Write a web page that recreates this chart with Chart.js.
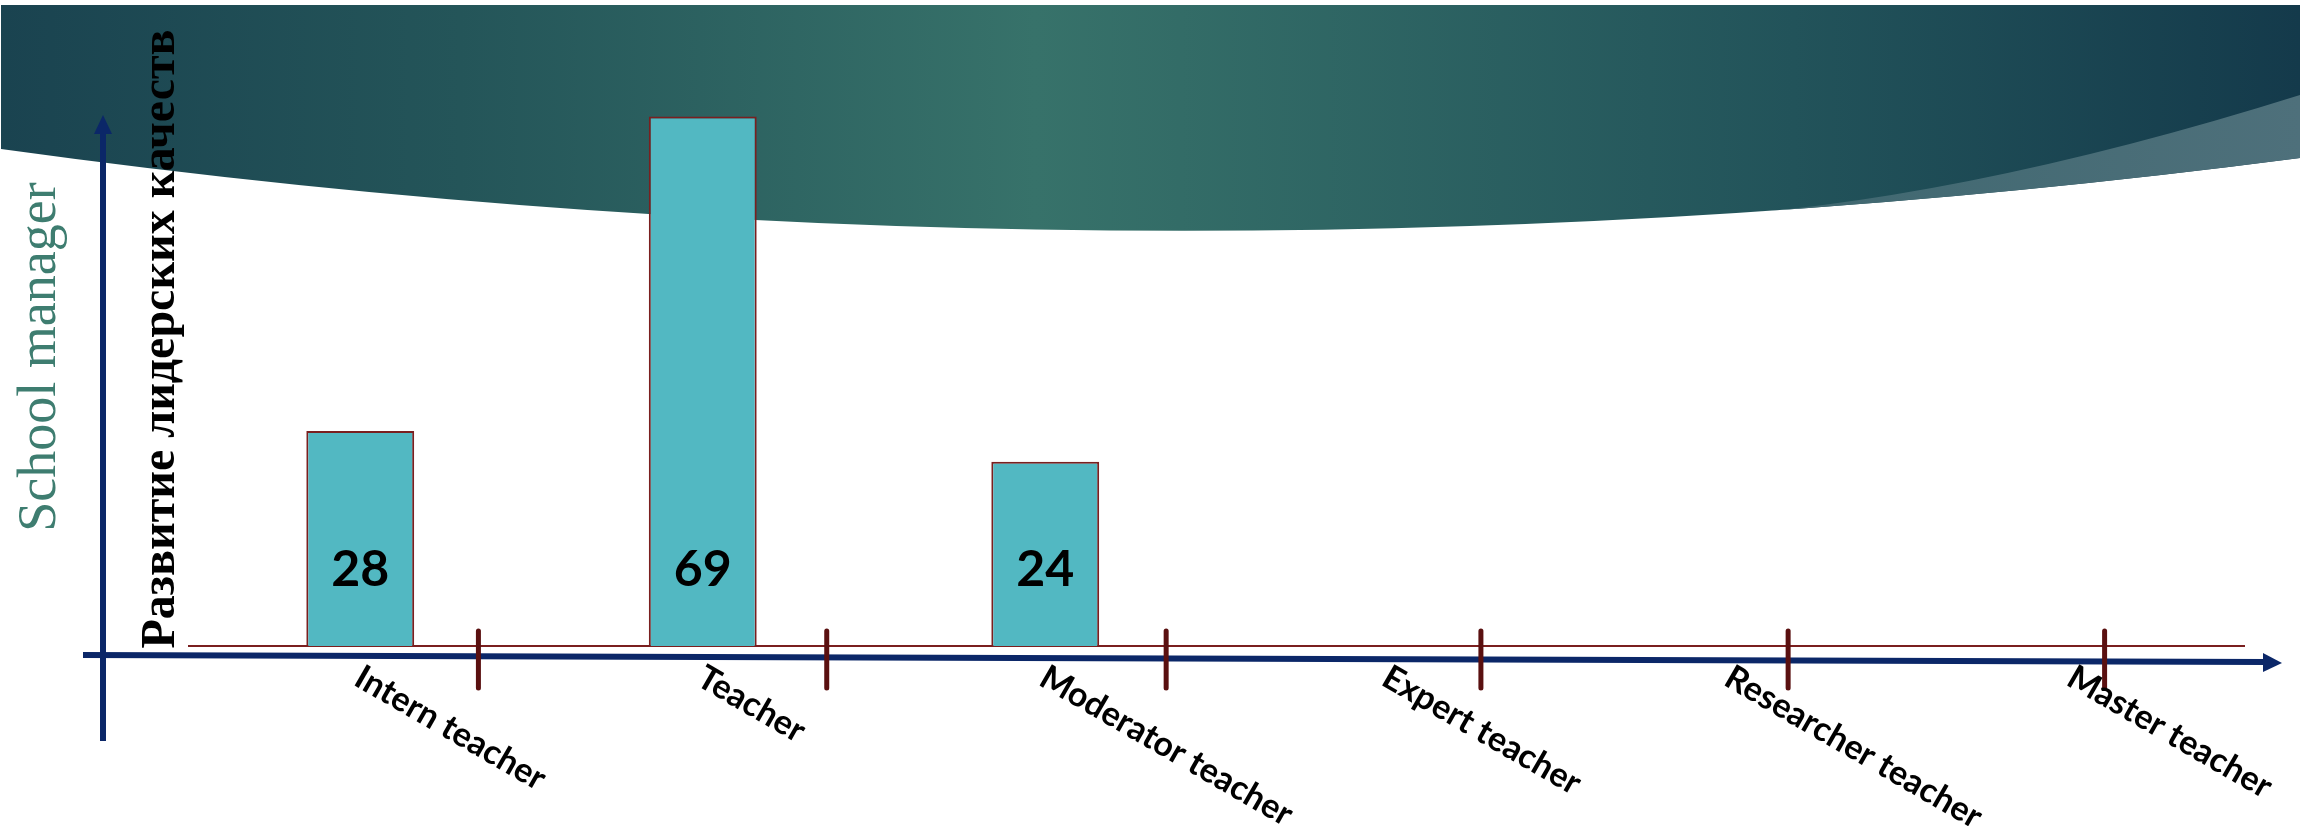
<!DOCTYPE html>
<html>
<head>
<meta charset="utf-8">
<script src="https://cdn.jsdelivr.net/npm/chart.js@4.4.0/dist/chart.umd.min.js"></script>
<style>
  body { margin: 0; background: #fff; }
  canvas { display: block; }
</style>
</head>
<body>
<canvas id="chart" width="2300" height="826"></canvas>
<script>
const categories = ['Intern teacher', 'Teacher', 'Moderator teacher', 'Expert teacher', 'Researcher teacher', 'Master teacher'];
const values = [28, 69, 24, null, null, null];
const yTitle = 'Развитие лидерских качеств';
const sideTitle = 'School manager';

// hand drawn marks on the axis, shifted right of each category (share of a step)
const markShift = [0.345, 0.362, 0.353, 0.272, 0.169, 0.093];

const navy = '#0B2768';
const maroon = '#7A1F1F';

// the dark green wave across the top of the slide
const wavePlugin = {
    id: 'wave',
    beforeDraw(chart) {
        const ctx = chart.ctx;
        const w = chart.width;
        ctx.save();
        ctx.fillStyle = '#fff';
        ctx.fillRect(0, 0, w, chart.height);

        let grad = ctx.createLinearGradient(0, 0, w, 0);
        grad.addColorStop(0, '#1A4350');
        grad.addColorStop(0.2, '#245559');
        grad.addColorStop(0.45, '#37726A');
        grad.addColorStop(0.78, '#22535A');
        grad.addColorStop(1, '#143A4B');

        ctx.beginPath();
        ctx.moveTo(1, 5);
        ctx.lineTo(w, 5);
        ctx.lineTo(w, 158);
        ctx.quadraticCurveTo(1150, 308, 1, 149);
        ctx.closePath();
        ctx.fillStyle = grad;
        ctx.fill();
        ctx.clip();

        // lighter strip under the wave on the right
        let light = ctx.createLinearGradient(1700, 0, w, 0);
        light.addColorStop(0, '#3D666E');
        light.addColorStop(1, '#4E707B');
        ctx.beginPath();
        ctx.moveTo(1680, 218);
        ctx.quadraticCurveTo(1950, 205, w, 95);
        ctx.lineTo(w, 300);
        ctx.lineTo(1680, 300);
        ctx.closePath();
        ctx.fillStyle = light;
        ctx.fill();
        ctx.restore();
    }
};

const decorPlugin = {
    id: 'decor',
    afterDraw(chart) {
        const ctx = chart.ctx;
        const area = chart.chartArea;
        const x = chart.scales.x;
        const step = x.getPixelForValue(1) - x.getPixelForValue(0);
        ctx.save();

        // blue arrows
        ctx.strokeStyle = navy;
        ctx.fillStyle = navy;
        ctx.lineWidth = 6;
        ctx.beginPath();
        ctx.moveTo(area.left - 86, area.bottom + 95);
        ctx.lineTo(area.left - 86, area.top + 100);
        ctx.stroke();
        ctx.beginPath();
        ctx.moveTo(area.left - 86, area.top + 83);
        ctx.lineTo(area.left - 95, area.top + 102);
        ctx.lineTo(area.left - 77, area.top + 102);
        ctx.closePath();
        ctx.fill();

        ctx.beginPath();
        ctx.moveTo(area.left - 106, area.bottom + 9);
        ctx.lineTo(area.right + 21, area.bottom + 16);
        ctx.stroke();
        ctx.beginPath();
        ctx.moveTo(area.right + 38, area.bottom + 17);
        ctx.lineTo(area.right + 19, area.bottom + 7);
        ctx.lineTo(area.right + 19, area.bottom + 26);
        ctx.closePath();
        ctx.fill();

        // maroon marks
        ctx.strokeStyle = '#5A1010';
        ctx.lineWidth = 5;
        ctx.lineCap = 'round';
        categories.forEach((c, i) => {
            let px = x.getPixelForValue(i) + markShift[i] * step;
            ctx.beginPath();
            ctx.moveTo(px, area.bottom - 15);
            ctx.lineTo(px, area.bottom + 42);
            ctx.stroke();
        });

        // slanted category names
        ctx.fillStyle = '#000';
        ctx.font = 'bold 34px Lato';
        ctx.textAlign = 'left';
        ctx.textBaseline = 'top';
        categories.forEach((c, i) => {
            ctx.save();
            ctx.translate(x.getPixelForValue(i) + 6, area.bottom + 14);
            ctx.rotate(Math.PI / 6);
            ctx.fillText(c, 0, 0);
            ctx.restore();
        });

        // values inside the bars
        ctx.font = 'bold 50px Lato';
        ctx.textAlign = 'center';
        ctx.textBaseline = 'middle';
        chart.getDatasetMeta(0).data.forEach((bar, i) => {
            if (values[i] == null) return;
            ctx.fillText(values[i], bar.x, area.bottom - 76);
        });

        // titles
        ctx.save();
        ctx.translate(area.left - 15, (area.top + area.bottom) / 2);
        ctx.rotate(-Math.PI / 2);
        ctx.textBaseline = 'alphabetic';
        ctx.font = 'bold 48px "Liberation Serif"';
        ctx.fillText(yTitle, 0, 0);
        ctx.restore();

        ctx.save();
        ctx.translate(area.left - 134, 357);
        ctx.rotate(-Math.PI / 2);
        ctx.textBaseline = 'alphabetic';
        ctx.fillStyle = '#3E7D70';
        ctx.font = '54px "Liberation Serif"';
        ctx.fillText(sideTitle, 0, 0);
        ctx.restore();

        ctx.restore();
    }
};

new Chart(document.getElementById('chart'), {
    type: 'bar',
    data: {
        labels: categories,
        datasets: [{
            data: values,
            backgroundColor: '#52B8C2',
            borderColor: maroon,
            borderWidth: 2,
            barPercentage: 0.315,
            categoryPercentage: 1
        }]
    },
    options: {
        responsive: false,
        animation: false,
        devicePixelRatio: 1,
        layout: { padding: { left: 189, right: 56, top: 32, bottom: 180 } },
        plugins: {
            legend: { display: false },
            tooltip: { enabled: false }
        },
        scales: {
            x: {
                grid: { display: false, drawTicks: false },
                ticks: { display: false },
                border: { display: true, color: maroon, width: 2 }
            },
            y: { display: false, min: 0, max: 80 }
        }
    },
    plugins: [wavePlugin, decorPlugin]
});
</script>
</body>
</html>
